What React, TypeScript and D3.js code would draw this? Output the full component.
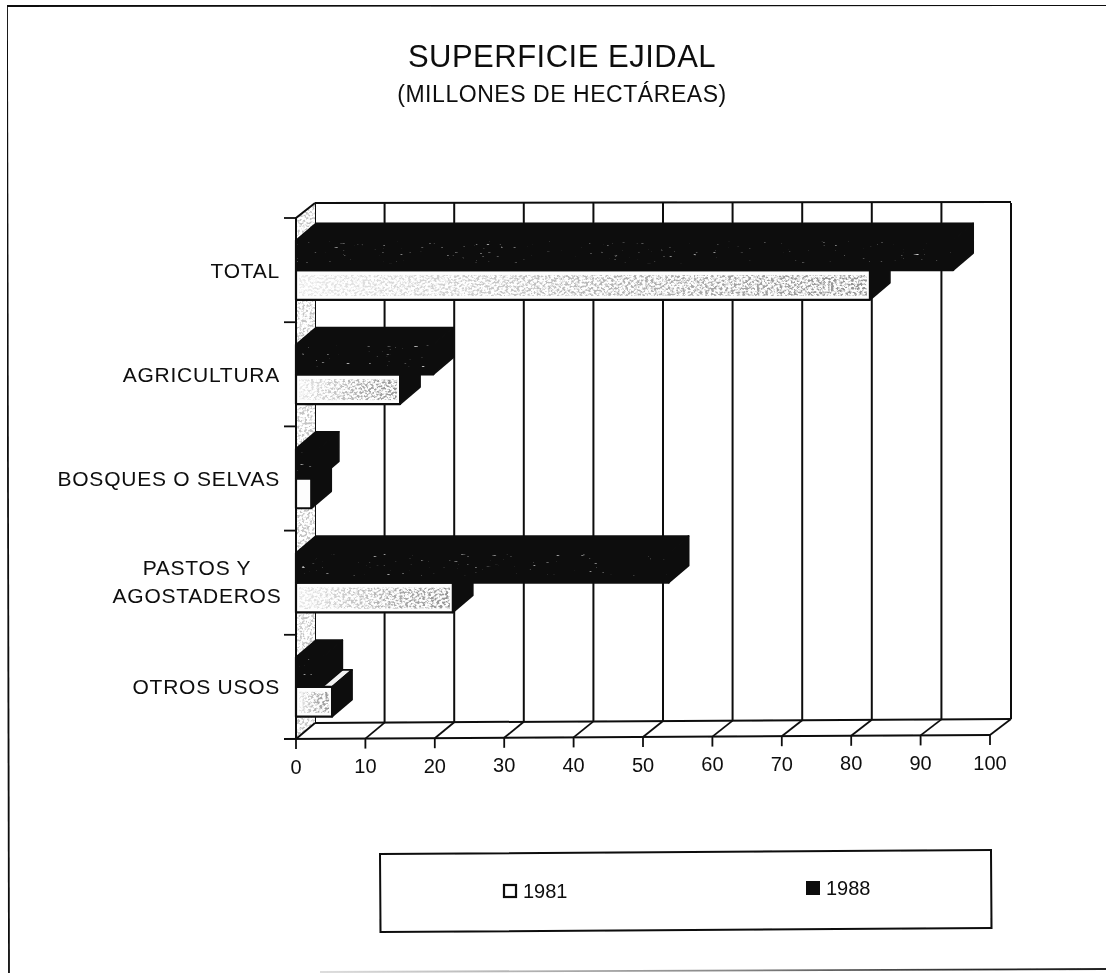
import React from "react";
import * as d3 from "d3";

const categories = ["TOTAL", "AGRICULTURA", "BOSQUES O SELVAS", "PASTOS Y AGOSTADEROS", "OTROS USOS"];
const years = ["1988", "1981"];
const values1981 = [82.7, 15, 2.2, 22.6, 5.2];
const values1988 = [94.7, 19.8, 3.3, 53.7, 3.8];
const xTicks = [0, 10, 20, 30, 40, 50, 60, 70, 80, 90, 100];
const title = "SUPERFICIE EJIDAL";
const subtitle = "(MILLONES DE HECTÁREAS)";

const W = 1106, H = 973;
const x = d3.scaleLinear().domain([0, 100]).range([296, 990]);
const yCat = d3.scaleBand().domain(categories).range([218, 739]);
const yBar = d3.scaleBand().domain(years).range([0, yCat.bandwidth()]).paddingOuter(0.75).paddingInner(0);
const DX = 20, DY = -17;
const floorY = (v: number) => 739 - 0.04 * v;
const INK = "#0c0c0c";
const FONT = "'Liberation Sans', Arial, sans-serif";
const poly = (pts: number[][]) => pts.map((p) => p.join(",")).join(" ");

function Bar({ cat, year, value }: { cat: string; year: string; value: number }) {
  const y0 = (yCat(cat) as number) + (yBar(year) as number);
  const h = yBar.bandwidth();
  const x0 = x(0), x1 = x(value);
  const dark = year === "1988";
  const w = x1 - x0;
  return (
    <g stroke={INK} strokeWidth={1.6} strokeLinejoin="round">
      <polygon points={poly([[x0, y0], [x0 + DX, y0 + DY], [x1 + DX, y0 + DY], [x1, y0]])} fill={dark ? "#0a0a0a" : "#f2f2f2"} />
      <polygon points={poly([[x1, y0], [x1 + DX, y0 + DY], [x1 + DX, y0 + h + DY], [x1, y0 + h]])} fill="#111" />
      <rect x={x0} y={y0} width={w} height={h} fill={dark ? "#0a0a0a" : "#fdfdfd"} strokeWidth={2.2} />
      {dark ? (
        <rect x={x0 + 1} y={y0 + 1} width={Math.max(w - 3, 0)} height={h - 8} fill="#fff" filter="url(#specksDark)" stroke="none" />
      ) : (
        w > 20 && (
          <g stroke="none">
            <rect x={x0 + 3} y={y0 + 5} width={w - 6} height={h - 9} fill="#555" filter="url(#specksLight)" />
            <rect x={x0 + 3} y={y0 + 5} width={w - 6} height={h - 9} fill="url(#fadeBar)" />
          </g>
        )
      )}
    </g>
  );
}

export default function App() {
  const wall = [[x(0), yCat.range()[0]], [x(0) + 19, 203], [x(0) + 19, floorY(0) - 16], [x(0), floorY(0)]];
  return (
    <svg width={W} height={H} viewBox={`0 0 ${W} ${H}`} style={{ position: "absolute", left: 0, top: 0, background: "#fff" }}>
      <defs>
        <filter id="specksDark" x="0" y="0" width="100%" height="100%">
          <feTurbulence type="fractalNoise" baseFrequency="0.15 0.9" numOctaves={2} seed={4} />
          <feColorMatrix values="0 0 0 0 0.7  0 0 0 0 0.7  0 0 0 0 0.7  6 0 0 0 -4.4" />
          <feComposite in2="SourceAlpha" operator="in" />
        </filter>
        <filter id="specksLight" x="0" y="0" width="100%" height="100%">
          <feTurbulence type="fractalNoise" baseFrequency="0.35 0.5" numOctaves={2} seed={9} />
          <feColorMatrix values="0 0 0 0 0.3  0 0 0 0 0.3  0 0 0 0 0.3  5 0 0 0 -2.2" />
          <feComposite in2="SourceAlpha" operator="in" />
        </filter>
        <filter id="specksWall" x="0" y="0" width="100%" height="100%">
          <feTurbulence type="fractalNoise" baseFrequency="0.4" numOctaves={2} seed={2} />
          <feColorMatrix values="0 0 0 0 0.55  0 0 0 0 0.55  0 0 0 0 0.55  5 0 0 0 -2.3" />
          <feComposite in2="SourceAlpha" operator="in" />
        </filter>
        <filter id="scan" x="0" y="0" width="100%" height="100%">
          <feGaussianBlur stdDeviation="0.5" />
        </filter>
        <linearGradient id="fade" gradientUnits="userSpaceOnUse" x1="320" y1="0" x2="1000" y2="0">
          <stop offset="0" stopColor="#ddd" />
          <stop offset="0.6" stopColor="#888" />
          <stop offset="1" stopColor="#222" />
        </linearGradient>
        <linearGradient id="fadeBar" x1="0" y1="0" x2="1" y2="0">
          <stop offset="0" stopColor="#fff" stopOpacity="0.8" />
          <stop offset="0.6" stopColor="#fff" stopOpacity="0.25" />
          <stop offset="1" stopColor="#fff" stopOpacity="0" />
        </linearGradient>
      </defs>
      <g filter="url(#scan)">
        {/* page frame */}
        <line x1={7} y1={6} x2={9} y2={973} stroke={INK} strokeWidth={1.8} />
        <line x1={7} y1={6} x2={1106} y2={5} stroke={INK} strokeWidth={1.8} />
        <line x1={320} y1={972} x2={1106} y2={969} stroke="url(#fade)" strokeWidth={1.8} />

        <text x={562} y={67} textAnchor="middle" fontFamily={FONT} fontSize={31} letterSpacing={0.5} fill={INK}>{title}</text>
        <text x={562} y={102} textAnchor="middle" fontFamily={FONT} fontSize={23} letterSpacing={0.55} fill={INK}>{subtitle}</text>

        {/* back wall */}
        <line x1={x(0) + 19} y1={203} x2={x(100) + 21} y2={202} stroke={INK} strokeWidth={2} />
        <line x1={x(0) + 19} y1={floorY(0) - 16} x2={x(100) + 21} y2={floorY(100) - 16} stroke={INK} strokeWidth={2} />
        {xTicks.map((t) => (
          <line key={t} x1={x(t) + 19 + (t / 100) * 2} y1={203} x2={x(t) + 19 + (t / 100) * 2} y2={floorY(t) - 16} stroke={INK} strokeWidth={2} />
        ))}

        {/* side wall */}
        <polygon points={poly(wall)} fill="#fff" />
        <polygon points={poly(wall)} fill="#555" filter="url(#specksWall)" />
        <polyline points={poly([wall[3], wall[0], wall[1]])} fill="none" stroke={INK} strokeWidth={2} />

        {/* floor */}
        {xTicks.map((t) => (
          <line key={t} x1={x(t)} y1={floorY(t)} x2={x(t) + 19 + (t / 100) * 2} y2={floorY(t) - 16} stroke={INK} strokeWidth={1.8} />
        ))}
        <line x1={284} y1={floorY(0)} x2={x(100)} y2={floorY(100)} stroke={INK} strokeWidth={2} />

        {/* ticks */}
        {xTicks.map((t) => (
          <g key={t}>
            <line x1={x(t)} y1={floorY(t)} x2={x(t)} y2={floorY(t) + 10} stroke={INK} strokeWidth={1.8} />
            <text x={x(t)} y={floorY(t) + 34.5} textAnchor="middle" fontFamily={FONT} fontSize={20} fill={INK}>{t}</text>
          </g>
        ))}
        {yCat.domain().map((c) => (
          <line key={c} x1={284} y1={yCat(c) as number} x2={x(0)} y2={yCat(c) as number} stroke={INK} strokeWidth={1.8} />
        ))}

        {/* bars */}
        {categories.map((c, i) => (
          <g key={c}>
            <Bar cat={c} year="1981" value={values1981[i]} />
            <Bar cat={c} year="1988" value={values1988[i]} />
          </g>
        ))}

        {/* category labels */}
        {categories.map((c) => {
          const mid = (yCat(c) as number) + yCat.bandwidth() / 2;
          if (c === "PASTOS Y AGOSTADEROS") {
            return (
              <g key={c} fontFamily={FONT} fontSize={21} letterSpacing={0.75} fill={INK} textAnchor="middle">
                <text x={197} y={575}>PASTOS Y</text>
                <text x={197} y={603}>AGOSTADEROS</text>
              </g>
            );
          }
          return (
            <text key={c} x={280} y={mid + 7.5} textAnchor="end" fontFamily={FONT} fontSize={21} letterSpacing={0.75} fill={INK}>{c}</text>
          );
        })}

        {/* legend */}
        <g transform="rotate(-0.37 380 854)">
          <rect x={380} y={854} width={611} height={78} fill="none" stroke={INK} strokeWidth={2} />
        </g>
        <rect x={504} y={885} width={12} height={12} fill="#fff" stroke={INK} strokeWidth={2.2} />
        <text x={523} y={898} fontFamily={FONT} fontSize={20} fill={INK}>1981</text>
        <rect x={806} y={881} width={14} height={14} fill={INK} />
        <text x={826} y={895} fontFamily={FONT} fontSize={20} fill={INK}>1988</text>
      </g>
    </svg>
  );
}
